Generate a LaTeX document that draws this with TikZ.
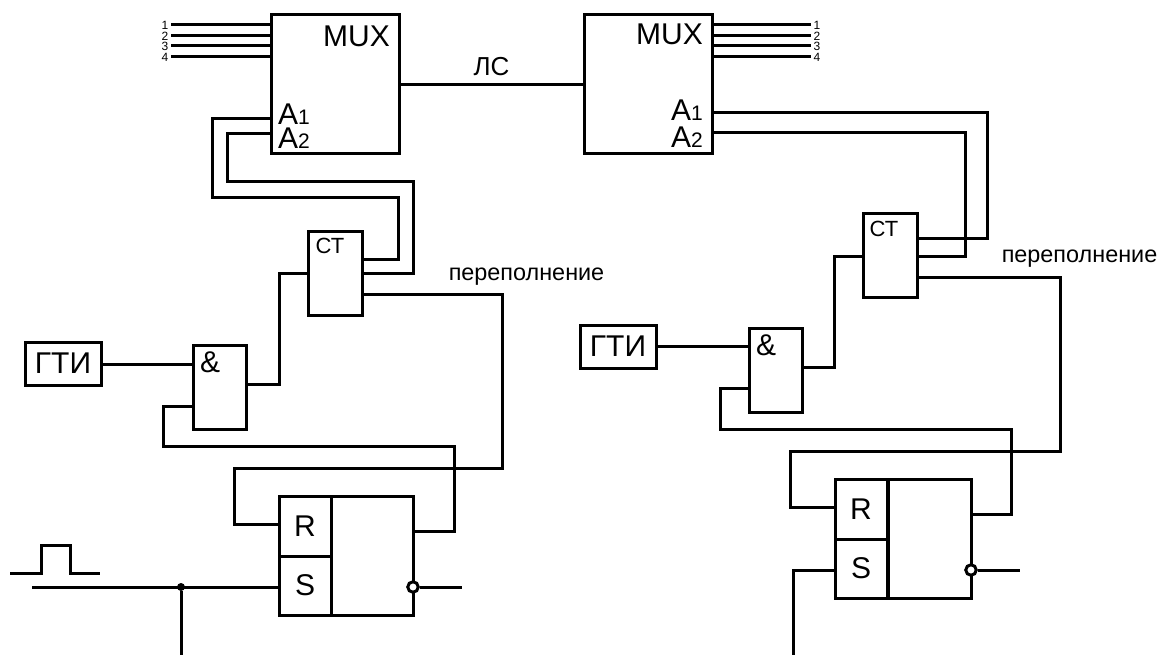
\documentclass[tikz,border=0pt]{standalone}
\usepackage{fontspec}
\setmainfont{Liberation Sans}
\usepackage{tikz}
\usetikzlibrary{positioning,calc}
\newcommand{\bigtxt}{\fontsize{30}{30}\selectfont}
\newcommand{\smalltxt}{\fontsize{21}{21}\selectfont}
\tikzset{
  blk/.style={draw=black,line width=3pt,inner sep=0pt,outer sep=0pt,anchor=north west},
  muxbox/.style={blk,minimum width=128pt,minimum height=139pt},
  ctbox/.style={blk,minimum width=54pt,minimum height=84pt},
  andbox/.style={blk,minimum width=53pt,minimum height=84pt},
  genbox/.style={blk,minimum width=76pt,minimum height=43pt,font=\bigtxt},
  cellbox/.style={blk,minimum width=52pt,minimum height=60pt,font=\bigtxt},
  bodybox/.style={blk,minimum height=119pt},
  wire/.style={draw=black,line width=3pt},
  bus/.style={draw=black,line width=3pt},
  inv/.style={circle,draw=black,fill=white,line width=3pt,inner sep=0pt,minimum size=10.5pt},
  dotnode/.style={circle,fill=black,inner sep=0pt,minimum size=8pt},
  lab/.style={inner sep=0pt,font=\bigtxt},
  ctlab/.style={inner sep=0pt,font=\fontsize{22}{22}\selectfont},
  ovlab/.style={inner sep=0pt,font=\fontsize{23.4}{23.4}\selectfont},
  numlab/.style={inner sep=2.5pt,font=\fontsize{12}{12}\selectfont},
}
\begin{document}
\begin{tikzpicture}[x=1pt,y=-1pt]
  \useasboundingbox (0,0) rectangle (1158,655);
  % --- left half ---
  \node[muxbox](muxl) at (271,15) {};
  \node[lab,anchor=base east] at (390,47) (muxtl) {MUX};
  \node[lab,anchor=base west] at (278,125) (a1tl) {A{\smalltxt 1}};
  \node[lab,anchor=base west] at (278,149) (a2tl) {A{\smalltxt 2}};
  \node[ctbox](ctl) at (308,231) {};
  \node[ctlab] at (330,246) (cttl) {СТ};
  \node[andbox](andl) at (193,345) {};
  \node[lab,anchor=base west] at (200,372) (amtl) {\&};
  \node[genbox](genl) at (25,342) {ГТИ};
  \node[cellbox](rl) at (279,496) {R};
  \node[cellbox,minimum height=59pt](sl) at (279,556) {S};
  \node[bodybox,minimum width=82pt](qbl) at (331,496) {};
  \node[ovlab] at (526.5,277) (ovtl) {переполнение};
  % --- right half ---
  \node[muxbox](muxr) at (584,15) {};
  \node[lab,anchor=base east] at (703,45) (muxtr) {MUX};
  \node[lab,anchor=base east] at (703,121) (a1tr) {A{\smalltxt 1}};
  \node[lab,anchor=base east] at (703,148) (a2tr) {A{\smalltxt 2}};
  \node[ctbox](ctr) at (863,213) {};
  \node[ctlab] at (884,229) (cttr) {СТ};
  \node[andbox](andr) at (749,328) {};
  \node[lab,anchor=base west] at (756,355) (amtr) {\&};
  \node[genbox](genr) at (580,325) {ГТИ};
  \node[cellbox](rr) at (835,479) {R};
  \node[cellbox,minimum height=59pt](sr) at (835,539) {S};
  \node[bodybox,minimum width=83pt](qbr) at (888,479) {};
  \node[ovlab] at (1079.5,259) (ovtr) {переполнение};
  % bus lines on the multiplexers
  \foreach \n/\y in {1/25,2/36,3/46,4/57}{
    \coordinate (pl\n) at (271,\y);
    \coordinate (pr\n) at (711,\y);
    \node[numlab] (nl\n) at (165,\y) {\n};
    \node[numlab] (nr\n) at (817,\y) {\n};
    \draw[bus] (pl\n) -- (nl\n);
    \draw[bus] (pr\n) -- (nr\n);
  }
  % line between the two
  \draw[wire] (muxl.east) -- node[above=7pt,lab,font=\fontsize{26}{26}\selectfont](lsl){ЛС} (muxr.west);
  % pins, left
  \coordinate (a1l) at (271,119);
  \coordinate (a2l) at (271,134);
  \coordinate (q1l) at (361,259);
  \coordinate (q2l) at (361,273);
  \coordinate (q3l) at (361,294);
  \coordinate (cl) at (308,273);
  \coordinate (in1l) at (193,364);
  \coordinate (in2l) at (193,406);
  \coordinate (outl) at (246,384);
  \coordinate (rinl) at (279,524);
  \coordinate (sinl) at (279,587);
  \coordinate (qfbl) at (413,531);
  \draw[wire] (a1l) -| (212,197) -| (398,259) -- (q1l);
  \draw[wire] (a2l) -| (227,182) -| (413,273) -- (q2l);
  \draw[wire] (in1l) -- (genl.east |- in1l);
  \draw[wire] (outl) -| (279,273) -- (cl);
  \draw[wire] (q3l) -| (502,468) -| (234,524) -- (rinl);
  \draw[wire] (in2l) -| (163,446) -| (454,531) -- (qfbl);
  \node[dotnode](dotl) at (181,587) {};
  \coordinate (sendl) at (32,587);
  \coordinate (sdownl) at (181,655);
  \draw[wire] (sendl) -- (sinl);
  \draw[wire] (dotl) -- (sdownl);
  \node[inv](invl) at (413,587) {};
  \coordinate (qendl) at (462,587);
  \draw[wire] (invl) -- (qendl);
  \draw[wire] (10,573) -| (41,545) -| (70,573) -- (100,573);
  % pins, right
  \coordinate (a1r) at (711,113);
  \coordinate (a2r) at (711,133);
  \coordinate (q1r) at (917,238);
  \coordinate (q2r) at (917,256);
  \coordinate (q3r) at (917,277);
  \coordinate (cr) at (863,256);
  \coordinate (in1r) at (749,346);
  \coordinate (in2r) at (749,388);
  \coordinate (outr) at (802,367);
  \coordinate (rinr) at (835,507);
  \coordinate (sinr) at (835,570);
  \coordinate (qfbr) at (971,514);
  \draw[wire] (a1r) -| (987,238) -- (q1r);
  \draw[wire] (a2r) -| (965,256) -- (q2r);
  \draw[wire] (in1r) -- (genr.east |- in1r);
  \draw[wire] (outr) -| (834,256) -- (cr);
  \draw[wire] (q3r) -| (1060,451) -| (790,507) -- (rinr);
  \draw[wire] (in2r) -| (720,429) -| (1011,514) -- (qfbr);
  \coordinate (sdownr) at (793,655);
  \draw[wire] (sinr) -| (sdownr);
  \node[inv](invr) at (971,570) {};
  \coordinate (qendr) at (1020,570);
  \draw[wire] (invr) -- (qendr);
\end{tikzpicture}
\end{document}
